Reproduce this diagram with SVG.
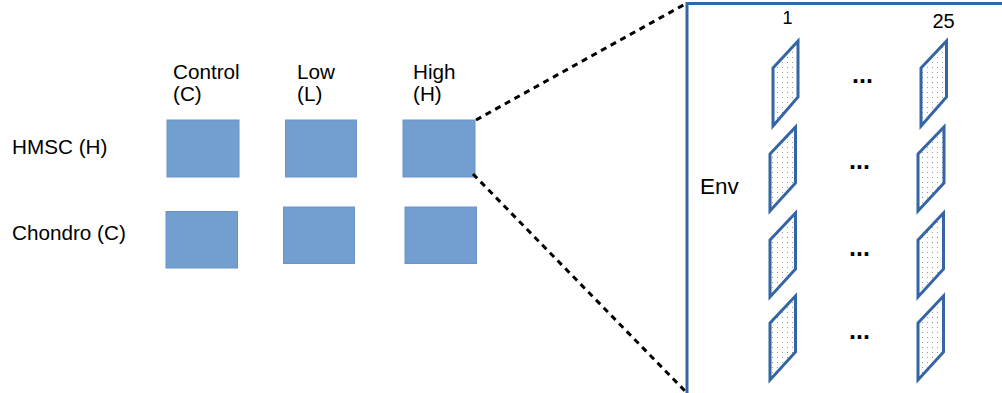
<svg xmlns="http://www.w3.org/2000/svg" width="1002" height="393" viewBox="0 0 1002 393">
<style>
.t{font-family:"Liberation Sans",Arial,sans-serif;fill:#000}
.lb{font-size:20.7px}
.sq{fill:#729fcf;stroke:#6a93c9;stroke-width:1}
.pg{fill:url(#dots);stroke:#3465a4;stroke-width:3;stroke-linejoin:miter}
.dash{stroke:#000;stroke-width:3;stroke-dasharray:6 5;fill:none}
.frame{stroke:#3465a4;stroke-width:3;fill:none}
.ell{font-family:"Liberation Sans",Arial,sans-serif;font-weight:bold;font-size:25px}
</style>
<defs>
<pattern id="dots" width="5" height="5" patternUnits="userSpaceOnUse">
<rect width="5" height="5" fill="#fff"/>
<rect x="2" y="2" width="1" height="1" fill="#999"/>
</pattern>
</defs>
<rect width="1002" height="393" fill="#fff"/>
<g id="labels">
<text class="t lb" x="173" y="79">Control</text>
<text class="t lb" x="173" y="101">(C)</text>
<text class="t lb" x="297" y="79">Low</text>
<text class="t lb" x="297" y="101">(L)</text>
<text class="t lb" x="413" y="79">High</text>
<text class="t lb" x="413" y="101">(H)</text>
<text class="t lb" x="12" y="154">HMSC (H)</text>
<text class="t lb" x="12" y="240">Chondro (C)</text>
</g>
<g id="grid">
<rect id="hc" class="sq" x="167" y="120" width="72" height="57"/>
<rect id="hl" class="sq" x="285.5" y="120" width="71" height="57"/>
<rect id="hh" class="sq" x="403" y="120" width="72" height="57"/>
<rect id="cc" class="sq" x="166" y="211.5" width="71.5" height="56.5"/>
<rect id="cl" class="sq" x="283.5" y="207" width="71" height="56.5"/>
<rect id="ch" class="sq" x="405" y="207" width="71.5" height="56.5"/>
</g>
<g id="connectors">
<line class="dash" x1="476" y1="120" x2="687" y2="3"/>
<line class="dash" x1="473" y1="174" x2="687" y2="393"/>
</g>
<g id="env">
<path class="frame" d="M687,393 V3.5 H1002"/>
<text class="t" x="782.5" y="24" font-size="18">1</text>
<text class="t" x="932.5" y="28.3" font-size="20">25</text>
<text class="t" x="700" y="194" font-size="22.5">Env</text>
<polygon class="pg" points="773,68 798,41 798,97 773,126"/>
<polygon class="pg" points="921,68 946.5,41 946.5,97 921,126"/>
<polygon class="pg" points="770,154 795.5,127 795.5,183 770,211"/>
<polygon class="pg" points="918,154 944,127 944,183 918,211"/>
<polygon class="pg" points="770,240 795.5,213 795.5,269 770,297"/>
<polygon class="pg" points="918,240 943.5,213 943.5,269 918,297"/>
<polygon class="pg" points="770,323 795.5,296 795.5,352 770,380"/>
<polygon class="pg" points="918,323 943.5,296 943.5,352 918,380"/>
<text class="ell" x="852" y="83.3">...</text>
<text class="ell" x="849" y="169">...</text>
<text class="ell" x="849" y="255.5">...</text>
<text class="ell" x="849" y="338.5">...</text>
</g>
</svg>
